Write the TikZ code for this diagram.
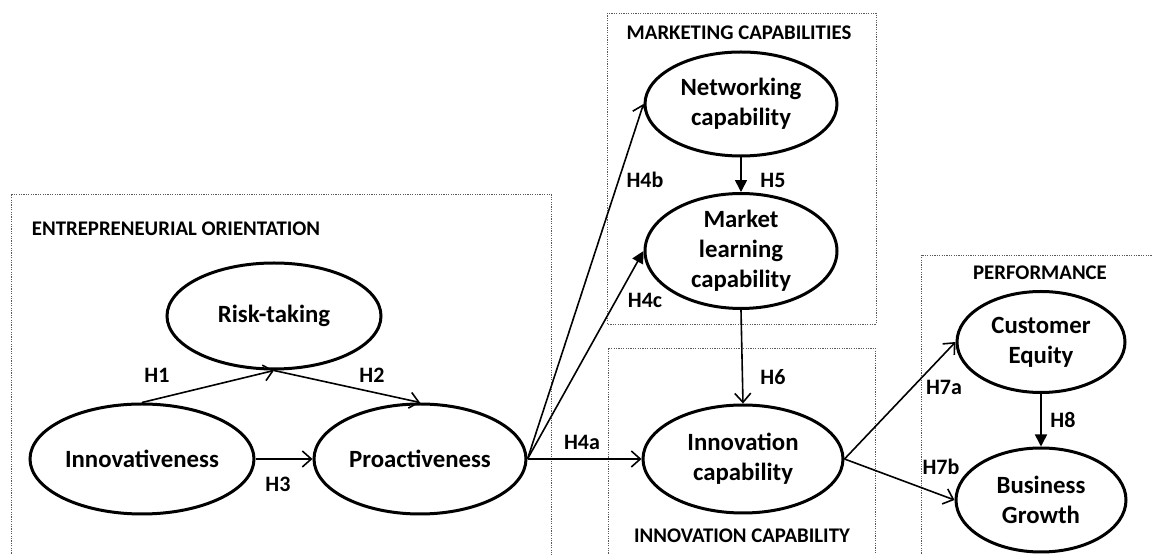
\documentclass[tikz,border=0pt]{standalone}
\usepackage{fontspec}
\setmainfont{Carlito}
\usetikzlibrary{shapes.geometric,arrows.meta}

\begin{document}
\begin{tikzpicture}[x=0.5pt,y=-0.5pt,
        construct/.style={draw,ellipse,line width=1.5pt,inner sep=0pt,align=center,
                font=\fontsize{12.4}{15}\selectfont\bfseries},
        hyp/.style={font=\fontsize{11}{12}\selectfont\bfseries},
        boxtitle/.style={font=\fontsize{10.4}{11}\selectfont\bfseries},
        group/.style={gray!70!black,line width=0.4pt,dash pattern=on 0.6pt off 0.6pt},
        path/.style={line width=0.8pt,-{Straight Barb[length=4.5pt,width=8pt]}},
        fpath/.style={line width=0.8pt,-{Triangle[length=6pt,width=6pt]}}]
        \useasboundingbox (0,0) rectangle (1153,555);
        % dotted groups
        \draw[group] (11,556) |- (551,194) -- (551,556);
        \draw[group] (607,13) rectangle (876,324);
        \draw[group] (608,556) |- (875,348) -- (875,556);
        \draw[group] (921,556) |- (1154,255);
        \node[boxtitle] (tEO) at (176,229) {ENTREPRENEURIAL ORIENTATION};
        \node[boxtitle] (tMC) at (739,33) {MARKETING CAPABILITIES};
        \node[boxtitle] (tIC) at (742,536) {INNOVATION CAPABILITY};
        \node[boxtitle] (tPF) at (1040,273) {PERFORMANCE};
        % constructs
        \node[construct,minimum width=107pt,minimum height=53pt] (risk) at (274,316) {Risk-taking};
        \node[construct,minimum width=112pt,minimum height=55pt] (innov) at (142,459) {Innovativeness};
        \node[construct,minimum width=106pt,minimum height=55pt] (proact) at (420,459) {Proactiveness};
        \node[construct,minimum width=96pt,minimum height=52pt] (network) at (741,104) {Networking\\capability};
        \node[construct,minimum width=96pt,minimum height=52pt] (mlearn) at (741,251) {Market\\learning\\capability};
        \node[construct,minimum width=100pt,minimum height=54pt] (innovcap) at (743,459) {Innovation\\capability};
        \node[construct,minimum width=84pt,minimum height=50.5pt] (custeq) at (1041,342) {Customer\\Equity};
        \node[construct,minimum width=85pt,minimum height=52pt] (bgrowth) at (1041,500) {Business\\Growth};
        % hypotheses
        \draw[path] (innov.north) -- (risk.south);
        \draw[path] (risk.south) -- (proact.north);
        \draw[path] (innov.east) -- (proact.west);
        \draw[path] (proact.east) -- (innovcap.west);
        \draw[path] (proact.east) -- (network.west);
        \draw[fpath] (proact.east) -- (mlearn.west);
        \draw[fpath] (network.south) -- (mlearn.north);
        \draw[path] (mlearn.south) -- (innovcap.north);
        \draw[path] (innovcap.east) -- (custeq.west);
        \draw[path] (innovcap.east) -- (bgrowth.west);
        \draw[fpath] (custeq.south) -- (bgrowth.north);
        \node[hyp] (h1) at (157,375) {H1};
        \node[hyp] (h2) at (372,375) {H2};
        \node[hyp] (h3) at (278,484) {H3};
        \node[hyp] (h4a) at (582,442) {H4a};
        \node[hyp] (h4b) at (645,180) {H4b};
        \node[hyp] (h4c) at (645,300) {H4c};
        \node[hyp] (h5) at (773,180) {H5};
        \node[hyp] (h6) at (773,377) {H6};
        \node[hyp] (h7a) at (944,387) {H7a};
        \node[hyp] (h7b) at (941,467) {H7b};
        \node[hyp] (h8) at (1063,420) {H8};
\end{tikzpicture}
\end{document}
